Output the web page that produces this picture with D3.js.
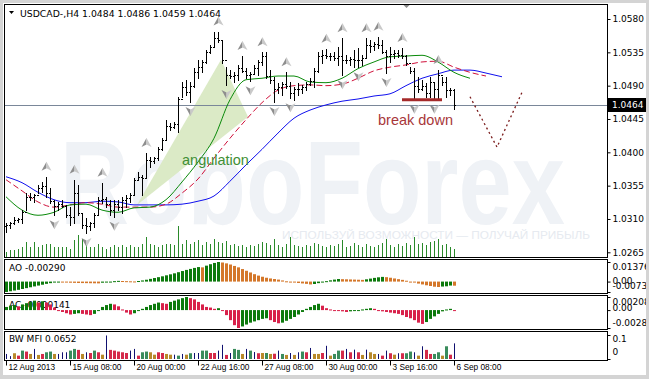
<!DOCTYPE html>
<html>
<head>
<meta charset="utf-8">
<script src="https://cdn.jsdelivr.net/npm/d3@7"></script>
<style>
  body { margin: 0; background: #fff; }
  svg text { font-family: Tahoma, "DejaVu Sans", sans-serif; }
</style>
</head>
<body>
<svg id="chart" width="649" height="379"></svg>
<script>
// ---- data (USDCAD H4, 113 bars) ----
const symbolTitle = 'USDCAD-,H4  1.0484 1.0486 1.0459 1.0464';
const lastPrice = 1.0464;

const high = [
  1.0305,1.0306,1.0313,1.0311,1.0322,1.0345,1.0345,1.0344,1.0356,1.0360,
  1.0367,1.0352,1.0336,1.0333,1.0336,1.0329,1.0326,1.0363,1.0356,1.0318,
  1.0311,1.0306,1.0318,1.0340,1.0359,1.0340,1.0336,1.0336,1.0336,1.0340,
  1.0342,1.0345,1.0365,1.0373,1.0369,1.0399,1.0394,1.0394,1.0407,1.0419,
  1.0444,1.0440,1.0441,1.0475,1.0495,1.0498,1.0495,1.0514,1.0525,1.0525,
  1.0538,1.0545,1.0562,1.0563,1.0552,1.0515,1.0511,1.0508,1.0518,1.0530,
  1.0514,1.0508,1.0518,1.0525,1.0535,1.0535,1.0511,1.0502,1.0494,1.0495,
  1.0508,1.0495,1.0488,1.0494,1.0491,1.0495,1.0500,1.0514,1.0535,1.0538,
  1.0540,1.0534,1.0535,1.0542,1.0554,1.0531,1.0529,1.0538,1.0541,1.0531,
  1.0554,1.0552,1.0549,1.0556,1.0552,1.0538,1.0542,1.0538,1.0538,1.0541,
  1.0531,1.0515,1.0514,1.0502,1.0498,1.0494,1.0502,1.0495,1.0511,1.0502,
  1.0502,1.0487,1.0486];
const low = [
  1.0292,1.0298,1.0303,1.0306,1.0305,1.0322,1.0336,1.0333,1.0345,1.0346,
  1.0340,1.0332,1.0315,1.0322,1.0326,1.0313,1.0302,1.0305,1.0315,1.0298,
  1.0291,1.0295,1.0299,1.0315,1.0332,1.0326,1.0315,1.0313,1.0322,1.0318,
  1.0326,1.0333,1.0342,1.0363,1.0342,1.0367,1.0380,1.0386,1.0390,1.0403,
  1.0417,1.0430,1.0433,1.0427,1.0475,1.0477,1.0468,1.0488,1.0500,1.0508,
  1.0521,1.0534,1.0542,1.0549,1.0521,1.0491,1.0500,1.0495,1.0498,1.0508,
  1.0500,1.0496,1.0507,1.0504,1.0518,1.0500,1.0494,1.0468,1.0480,1.0477,
  1.0487,1.0473,1.0471,1.0477,1.0480,1.0484,1.0491,1.0488,1.0508,1.0521,
  1.0527,1.0525,1.0525,1.0518,1.0504,1.0521,1.0518,1.0515,1.0515,1.0518,
  1.0527,1.0535,1.0538,1.0541,1.0534,1.0507,1.0522,1.0527,1.0529,1.0527,
  1.0518,1.0507,1.0471,1.0481,1.0484,1.0475,1.0475,1.0471,1.0471,1.0491,
  1.0475,1.0477,1.0459];
const close = [
  1.0302,1.0305,1.0309,1.0310,1.0320,1.0340,1.0339,1.0342,1.0352,1.0355,
  1.0345,1.0334,1.0328,1.0330,1.0328,1.0316,1.0312,1.0345,1.0318,1.0302,
  1.0300,1.0304,1.0316,1.0336,1.0337,1.0330,1.0322,1.0330,1.0326,1.0336,
  1.0338,1.0343,1.0363,1.0366,1.0365,1.0390,1.0388,1.0392,1.0405,1.0417,
  1.0436,1.0434,1.0438,1.0472,1.0488,1.0482,1.0490,1.0508,1.0515,1.0522,
  1.0535,1.0542,1.0555,1.0552,1.0525,1.0505,1.0503,1.0505,1.0514,1.0510,
  1.0505,1.0506,1.0514,1.0522,1.0530,1.0503,1.0498,1.0485,1.0488,1.0492,
  1.0490,1.0480,1.0485,1.0486,1.0488,1.0492,1.0496,1.0510,1.0530,1.0532,
  1.0530,1.0530,1.0528,1.0530,1.0525,1.0524,1.0526,1.0524,1.0525,1.0528,
  1.0545,1.0544,1.0546,1.0545,1.0536,1.0530,1.0533,1.0534,1.0532,1.0530,
  1.0520,1.0510,1.0490,1.0486,1.0490,1.0480,1.0495,1.0485,1.0505,1.0495,
  1.0484,1.0484,1.0464];
const firstOpen = 1.0300;

const volume = [
  1000,1400,1400,1600,2000,3000,2000,3000,2000,2400,
  2600,2600,2000,2000,2000,2000,1600,3400,4400,3600,
  2400,2000,2000,2600,2000,1600,2000,2400,2000,2400,
  2000,2400,2000,2000,2600,4000,2600,2400,2000,2400,
  2600,2600,2400,6200,2600,3400,2600,3000,3400,2400,
  3000,2600,3600,3000,2800,3200,2400,2600,2200,2400,
  2000,2400,2200,2600,3000,2800,2400,3600,2400,2000,
  2600,4000,2400,2200,2000,2400,2200,2800,2600,2200,
  2000,2400,2200,2600,3400,2000,2200,2800,2400,2000,
  2600,2200,2000,2400,2800,3600,2400,2000,2600,2200,
  2800,2400,4000,2600,2800,2400,3000,3200,3600,2400,
  2600,2000,1600];

// moving average lines, one value every 4 bars (bar 0, 4, 8 ...)
const maStep = 4;
const blueLine = [1.0367,1.0359,1.0346,1.0336,1.0332,1.0332,1.0334,1.0333,1.0329,1.0329,
  1.0329,1.0330,1.0334,1.0341,1.0361,1.0383,1.0404,1.0426,1.0446,1.0457,
  1.0464,1.0469,1.0472,1.0476,1.0479,1.0490,1.0500,1.0506,1.0511,1.0511,
  1.0507,1.0502];
const redLine = [1.0363,1.0348,1.0333,1.0326,1.0329,1.0332,1.0330,1.0326,1.0326,1.0326,
  1.0330,1.0345,1.0364,1.0392,1.0419,1.0444,1.0467,1.0484,1.0490,1.0491,
  1.0490,1.0492,1.0500,1.0510,1.0515,1.0518,1.0522,1.0523,1.0515,1.0508,
  1.0503];
const greenLine = [1.0340,1.0322,1.0315,1.0319,1.0329,1.0330,1.0322,1.0319,1.0325,1.0326,
  1.0336,1.0360,1.0387,1.0419,1.0471,1.0498,1.0500,1.0503,1.0503,1.0495,
  1.0494,1.0500,1.0513,1.0522,1.0529,1.0530,1.0531,1.0522,1.0508,1.0500];

// fractals (bar indexes)
const fractalUp = [10,17,24,35,53,59,64,70,80,84,90,93,99,108];
const fractalDown = [12,20,27,46,55,61,67,71,84,88,95,102,107];

// Awesome Oscillator, Accelerator (x 0.0001)
const ao = [
  -73,-68,-63,-58,-52,-46,-40,-34,-28,-22,
  -16,-11,-7,-5,-6,-7,-8,-9,-10,-10.5,
  -11,-11.5,-12,-12.5,-8,-4,0,3,5,4,
  3,2,1,4,8,13,19,25,31,37,
  44,51,58,66,74,82,89,96,102,100,
  112,122,131,137.6,134,128,120,110,100,88,
  76,64,52,42,34,27,22,18,14,8,
  2,-3,-7,-10,-13,-16,-20,-17,-11,-4,
  3,9,14,18,17,16,15,14,13,12,
  16,21,26,30,33,31,27,22,17,12,
  6,0,-7,-14,-20,-26,-31,-36,-38,-35,
  -33,-28,-29];
const ac = [
  5,7,8,6,9,11,13,15,12,14,
  12,9,4,0,-3,-5,-7,-6,-5,-6,
  -7,-8,-6,-1,5,8,10,9,6,1,
  -4,-7,-5,-1,2,5,8,10,12,11,
  10,13,15,17,19,20.82,19,17,13,9,
  5,4,2,3,0,-8,-16,-24,-28.5,-26,
  -23,-20,-18,-16,-14,-13,-16,-19,-21,-20,
  -17,-14,-11,-7,-3,2,5,8,10,7,
  3,1,0,-1,-2,-3,-2,-1,0,1,
  2,3,2,0,-2,-3,-4,-5,-6,-8,
  -11,-13,-16,-20,-22,-19,-14,-10,-6,-2,
  1,2,-1.41];

// BW Market Facilitation Index and its zone (f fake, g green, d fade, s squat)
const mfi = [
  0.021,0.012,0.024,0.014,0.035,0.031,0.021,0.042,0.017,0.021,
  0.028,0.031,0.021,0.021,0.028,0.028,0.035,0.042,0.038,0.021,
  0.028,0.025,0.035,0.028,0.018,0.098,0.038,0.035,0.031,0.028,
  0.025,0.035,0.042,0.014,0.028,0.031,0.028,0.018,0.028,0.025,
  0.021,0.018,0.018,0.014,0.021,0.018,0.024,0.025,0.025,0.035,
  0.035,0.025,0.025,0.035,0.059,0.017,0.025,0.042,0.038,0.021,
  0.042,0.035,0.029,0.024,0.025,0.025,0.021,0.022,0.035,0.021,
  0.017,0.025,0.017,0.028,0.031,0.028,0.046,0.021,0.021,0.025,
  0.055,0.014,0.021,0.035,0.035,0.042,0.028,0.039,0.028,0.017,
  0.039,0.028,0.021,0.021,0.014,0.035,0.024,0.018,0.024,0.024,
  0.024,0.031,0.028,0.014,0.053,0.038,0.021,0.021,0.028,0.014,
  0.053,0.018,0.0652];
const mfiZone = (
  'ffdsgsdfds' + 'ggdfffggsd' + 'fsgsdfssss' + 'sffsggddss' + 'ddfgfdgffg' +
  'gssffsfggd' + 'fgfsdgdsfg' + 'dfdfgsfdds' + 'fdggsfsfsd' + 'fddfsfsdfs' +
  'ggfdfssggd' + 'gsf').split('');

const priceTicks = [1.0580, 1.0535, 1.0490, 1.0445, 1.0400, 1.0355, 1.0310, 1.0265];
const aoTicks = [0.01376, 0, -0.00732];
const aoTickText = ['0.01376', '0.00', '-0.00732'];
const acTicks = [0.002082, 0, -0.00285];
const acTickText = ['0.002082', '0.00', '-0.002850'];
const mfiTicks = [0.1, 0];
const mfiTickText = ['0.1', '0'];
const timeIdx = [0, 16, 32, 48, 64, 80, 96, 112];
const timeLabels = ['12 Aug 2013', '15 Aug 08:00', '20 Aug 00:00', '22 Aug 16:00',
  '27 Aug 08:00', '30 Aug 00:00', '3 Sep 16:00', '6 Sep 08:00'];

// hand drawn analysis (bar index, price)
const wedge = [[32.75, 1.0329], [53.75, 1.0525], [60.5, 1.0448]];
const supportLine = [[99, 1.0471], [109, 1.0471]];
const forecast = [[116, 1.0475], [122.75, 1.0407], [129.25, 1.0484]];
const notes = [
  { text: 'angulation', i: 44, p: 1.0383, color: '#3f8f35' },
  { text: 'break down', i: 93, p: 1.0437, color: '#a8373a' }
];

// ---- layout ----
const L = 4.5, R = 607.5;
const mainTop = 4.5, mainBot = 257.5;
const panels = [
  { top: 259.5, bot: 293.5 },
  { top: 295.5, bot: 329.5 },
  { top: 331.5, bot: 360.5 }
];
const fs = '9px';

const svg = d3.select('#chart');

// window frame
svg.append('rect').attr('width', 649).attr('height', 379).attr('fill', '#d4d4d4');
svg.append('rect').attr('x', 3).attr('y', 3).attr('width', 643).attr('height', 372).attr('fill', '#fff');

const x = d3.scaleLinear().domain([0, 112]).range([6, 454]);
const y = d3.scaleLinear().domain([1.0265, 1.0580]).range([252.3, 19]);
const yVol = d3.scaleLinear().domain([0, 8000]).range([257, 217]);
const yAO = d3.scaleLinear().domain([-0.00732, 0.01376]).range([292, 262]);
const yAC = d3.scaleLinear().domain([-0.00285, 0.002082]).range([328, 297]);
const yMFI = d3.scaleLinear().domain([0, 0.1]).range([359, 335]);
const px = i => Math.round(x(i)) + 0.5;

svg.append('clipPath').attr('id', 'mainClip')
  .append('rect').attr('x', 5).attr('y', 5).attr('width', 602).attr('height', 252);

const main = svg.append('g').attr('clip-path', 'url(#mainClip)');

// watermark
main.append('text')
  .attr('x', 60).attr('y', 224)
  .attr('textLength', 505).attr('lengthAdjust', 'spacingAndGlyphs')
  .style('font-family', '"Liberation Sans", Arial, sans-serif')
  .style('font-weight', 'bold').style('font-size', '118px')
  .style('fill', '#eff2f6')
  .text('RoboForex');
main.append('text')
  .attr('x', 282).attr('y', 239)
  .attr('textLength', 308).attr('lengthAdjust', 'spacingAndGlyphs')
  .style('font-family', '"Liberation Sans", Arial, sans-serif')
  .style('font-size', '11px').style('fill', '#e6eaf0')
  .text('ИСПОЛЬЗУЙ ВОЗМОЖНОСТИ — ПОЛУЧАЙ ПРИБЫЛЬ');

// angulation wedge
main.append('polygon')
  .attr('points', wedge.map(d => [x(d[0]), y(d[1])].join(',')).join(' '))
  .style('fill', '#dbeac6');

// volumes
main.selectAll('.vol').data(volume).enter().append('line')
  .attr('x1', (d, i) => px(i)).attr('x2', (d, i) => px(i))
  .attr('y1', yVol(0)).attr('y2', d => yVol(d))
  .style('stroke', '#2a8a2a').style('stroke-width', 1);

// current price line
main.append('line')
  .attr('x1', L).attr('x2', R)
  .attr('y1', Math.round(y(lastPrice)) + 0.5).attr('y2', Math.round(y(lastPrice)) + 0.5)
  .style('stroke', '#7a8799').style('stroke-width', 1);

// moving averages
const maLine = d3.line()
  .x((d, k) => x(k * maStep))
  .y(d => y(d))
  .curve(d3.curveMonotoneX);
main.append('path').attr('d', maLine(blueLine))
  .style('fill', 'none').style('stroke', '#1010ee').style('stroke-width', 1);
main.append('path').attr('d', maLine(redLine))
  .style('fill', 'none').style('stroke', '#d0103a').style('stroke-width', 1)
  .style('stroke-dasharray', '6,3');
main.append('path').attr('d', maLine(greenLine))
  .style('fill', 'none').style('stroke', '#0a8a0a').style('stroke-width', 1);

// OHLC bars
const opens = close.map((c, i) => i === 0 ? firstOpen : close[i - 1]);
main.selectAll('.bar').data(close).enter().append('path')
  .attr('d', (c, i) => {
    const cx = px(i);
    const yo = Math.round(y(opens[i])) + 0.5, yc = Math.round(y(c)) + 0.5;
    return 'M' + cx + ',' + Math.round(y(high[i])) + 'V' + (Math.round(y(low[i])) + 1) +
      'M' + (cx - 1.5) + ',' + yo + 'H' + cx +
      'M' + cx + ',' + yc + 'H' + (cx + 1.5);
  })
  .style('fill', 'none').style('stroke', '#000').style('stroke-width', 1)
  .style('shape-rendering', 'crispEdges');

// fractal arrows
function arrow(g, up) {
  const s = up ? 1 : -1;
  g.append('path').attr('d', `M0,${-5 * s}L0,${1.5 * s}L-5,${4 * s}Z`).style('fill', '#8e8e8e');
  g.append('path').attr('d', `M0,${-5 * s}L5,${4 * s}L0,${1.5 * s}Z`).style('fill', '#c9c9c9');
}
fractalUp.forEach(i => {
  arrow(main.append('g').attr('transform', `translate(${px(i)},${y(high[i]) - 10})`), true);
});
fractalDown.forEach(i => {
  arrow(main.append('g').attr('transform', `translate(${px(i)},${y(low[i]) + 9})`), false);
});

// support line and forecast
main.append('line')
  .attr('x1', x(supportLine[0][0])).attr('x2', x(supportLine[1][0]))
  .attr('y1', y(supportLine[0][1])).attr('y2', y(supportLine[1][1]))
  .style('stroke', '#a52a2a').style('stroke-width', 3);
main.append('path')
  .attr('d', d3.line().x(d => x(d[0])).y(d => y(d[1]))(forecast))
  .style('fill', 'none').style('stroke', '#7a1a1a').style('stroke-width', 1.3)
  .style('stroke-dasharray', '2,3');

notes.forEach(n => {
  main.append('text').attr('x', x(n.i)).attr('y', y(n.p))
    .style('font-family', '"Liberation Sans", Arial, sans-serif')
    .style('font-size', '14.5px').style('fill', n.color).text(n.text);
});

// title
svg.append('path').attr('d', 'M9,11H14L11.5,14Z').style('fill', '#000');
svg.append('text').attr('x', 20).attr('y', 17)
  .style('font-size', '9.3px').style('fill', '#000').text(symbolTitle);

// chart shift marker
svg.append('path').attr('d', `M${px(100) - 4},4H${px(100) + 4}L${px(100)},8Z`).style('fill', '#8a8a8a');

// ---- AO panel ----
const aoVals = ao.map(v => v / 10000);
const aoZero = yAO(0);
svg.append('text').attr('x', 9).attr('y', 271)
  .style('font-size', fs).text('AO -0.00290');
svg.selectAll('.ao').data(aoVals).enter().append('rect')
  .attr('x', (d, i) => px(i) - 1.5).attr('width', 3)
  .attr('y', d => Math.min(yAO(d), aoZero))
  .attr('height', d => Math.max(1, Math.abs(yAO(d) - aoZero)))
  .style('fill', (d, i) => (i === 0 || d > aoVals[i - 1]) ? '#0c7a0c' : '#d4772a');

// ---- AC panel ----
const acVals = ac.map(v => v / 10000);
const acZero = yAC(0);
svg.append('text').attr('x', 9).attr('y', 308)
  .style('font-size', fs).text('AC -0.000141');
svg.selectAll('.ac').data(acVals).enter().append('rect')
  .attr('x', (d, i) => px(i) - 1.5).attr('width', 3)
  .attr('y', d => Math.min(yAC(d), acZero))
  .attr('height', d => Math.max(1, Math.abs(yAC(d) - acZero)))
  .style('fill', (d, i) => (i === 0 || d > acVals[i - 1]) ? '#0c7a0c' : '#d8204a');

// ---- BW MFI panel ----
const zoneColor = { g: '#3a8c5c', d: '#b8892a', s: '#d42a4a', f: '#101070' };
svg.append('text').attr('x', 9).attr('y', 342)
  .style('font-size', fs).text('BW MFI 0.0652');
svg.selectAll('.mfi').data(mfi).enter().append('rect')
  .attr('x', (d, i) => mfiZone[i] === 'f' ? px(i) - 0.5 : px(i) - 1.5)
  .attr('width', (d, i) => mfiZone[i] === 'f' ? 1 : 3)
  .attr('y', d => yMFI(d))
  .attr('height', d => yMFI(0) - yMFI(d))
  .style('fill', (d, i) => zoneColor[mfiZone[i]]);

// ---- panel borders ----
svg.append('rect').attr('x', L).attr('y', mainTop).attr('width', R - L).attr('height', mainBot - mainTop)
  .style('fill', 'none').style('stroke', '#000');
panels.forEach(p => {
  svg.append('rect').attr('x', L).attr('y', p.top).attr('width', R - L).attr('height', p.bot - p.top)
    .style('fill', 'none').style('stroke', '#000');
});

// ---- axes ----
svg.append('clipPath').attr('id', 'axisClip')
  .append('rect').attr('x', 600).attr('y', 0).attr('width', 46).attr('height', 379);
const axes = svg.append('g').attr('clip-path', 'url(#axisClip)');

function styleAxis(g, nudges) {
  g.select('.domain').remove();
  g.selectAll('text').style('font-size', fs).style('font-family', 'Tahoma, "DejaVu Sans", sans-serif')
    .style('fill', '#000').attr('x', 5);
  if (nudges) g.selectAll('text').attr('dy', (d, k) => (0.32 * 9 + nudges[k]) + 'px');
  g.selectAll('line').style('stroke', '#000');
}

axes.append('g').attr('transform', `translate(${R},0)`)
  .call(d3.axisRight(y).tickValues(priceTicks).tickSize(3).tickFormat(d3.format('.4f')))
  .call(g => styleAxis(g));

axes.append('g').attr('transform', `translate(${R},0)`)
  .call(d3.axisRight(yAO).tickValues(aoTicks).tickSize(3).tickFormat((d, k) => aoTickText[k]))
  .call(g => styleAxis(g, [5, -1, -6]));
axes.append('g').attr('transform', `translate(${R},0)`)
  .call(d3.axisRight(yAC).tickValues(acTicks).tickSize(3).tickFormat((d, k) => acTickText[k]))
  .call(g => styleAxis(g, [5, -2, -5]));
axes.append('g').attr('transform', `translate(${R},0)`)
  .call(d3.axisRight(yMFI).tickValues(mfiTicks).tickSize(3).tickFormat((d, k) => mfiTickText[k]))
  .call(g => styleAxis(g, [3.5, -7]));

// current price label
const yl = Math.round(y(lastPrice));
axes.append('rect').attr('x', 608).attr('y', yl - 7).attr('width', 39).attr('height', 14).style('fill', '#000');
axes.append('text').attr('x', 612).attr('y', yl + 3)
  .style('font-size', fs).style('fill', '#fff').text(d3.format('.4f')(lastPrice));

// time axis
const tAxis = svg.append('g').attr('transform', `translate(0,${panels[2].bot})`)
  .call(d3.axisBottom(x).tickValues(timeIdx).tickSize(5).tickFormat((d, k) => timeLabels[k]));
tAxis.select('.domain').remove();
tAxis.selectAll('line').style('stroke', '#000');
tAxis.selectAll('text').style('font-size', '8.3px').style('font-family', '"Liberation Sans", Arial, sans-serif')
  .style('fill', '#000').style('text-anchor', 'start').attr('x', 2).attr('y', 4).attr('dy', '0.71em');
</script>
</body>
</html>
